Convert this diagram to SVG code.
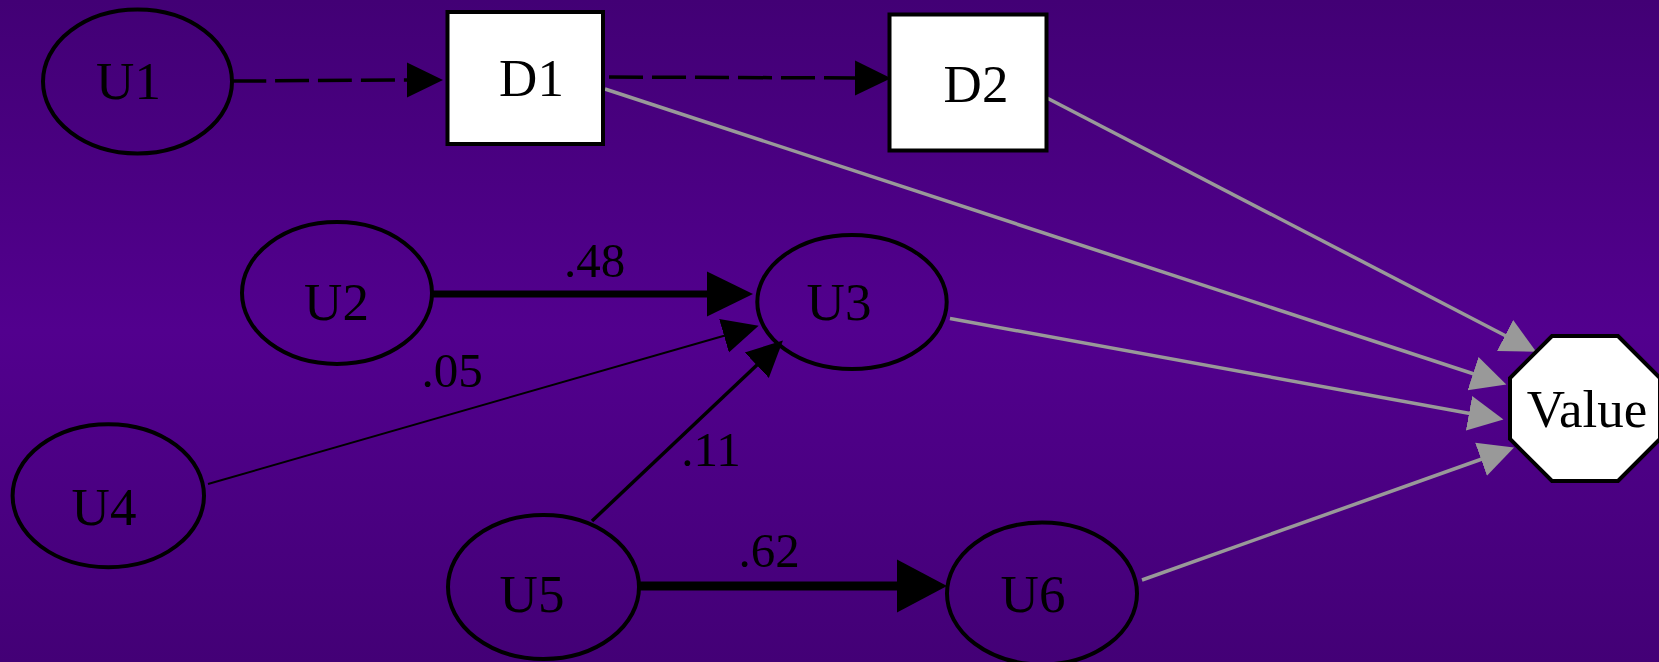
<svg xmlns="http://www.w3.org/2000/svg" width="1659" height="662" viewBox="0 0 1659 662">
<defs>
<linearGradient id="bg" x1="0" y1="0" x2="0" y2="1">
<stop offset="0" stop-color="#420075"/>
<stop offset="0.5" stop-color="#52008e"/>
<stop offset="1" stop-color="#430076"/>
</linearGradient>
<marker id="ab" markerUnits="userSpaceOnUse" markerWidth="38" markerHeight="38" viewBox="0 -19 38 38" refX="1" refY="0" orient="auto"><path d="M0,-17.5 L36,0 L0,17.5z" fill="#000"/></marker>
<marker id="ag" markerUnits="userSpaceOnUse" markerWidth="38" markerHeight="38" viewBox="0 -19 38 38" refX="1" refY="0" orient="auto"><path d="M0,-17.5 L35,0 L0,17.5z" fill="#999"/></marker>
<marker id="am" markerUnits="userSpaceOnUse" markerWidth="48" markerHeight="48" viewBox="0 -24 48 48" refX="1" refY="0" orient="auto"><path d="M0,-22.5 L46,0 L0,22.5z" fill="#000"/></marker>
<marker id="al" markerUnits="userSpaceOnUse" markerWidth="54" markerHeight="56" viewBox="0 -28 54 56" refX="1" refY="0" orient="auto"><path d="M0,-26.5 L50,0 L0,26.5z" fill="#000"/></marker>
</defs>
<style>
.u{fill:none;stroke:#000;stroke-width:4}
.d{fill:#fff;stroke:#000;stroke-width:4}
.t{font-family:"Liberation Serif","Times New Roman",serif;font-size:53px;fill:#000;text-anchor:middle}
.l{font-family:"Liberation Serif","Times New Roman",serif;font-size:49px;fill:#000;text-anchor:middle}
.e{fill:none;stroke:#000}
.g{fill:none;stroke:#999;stroke-width:3.5;marker-end:url(#ag)}
.dash{stroke-width:3.5;stroke-dasharray:34,9;marker-end:url(#ab)}
</style>
<rect x="0" y="0" width="1659" height="662" fill="url(#bg)"/>
<g id="connectors">
<path class="e dash" d="M232,81 C300,81 330,80 408,80"/>
<path class="e dash" d="M609,77 L856,78"/>
<path class="g" d="M605,89 L1474,374"/>
<path class="g" d="M1047,98 L1506,336"/>
<path class="g" d="M950,318.5 L1470,413.5"/>
<path class="g" d="M1142,580 L1482,459"/>
<path class="e" style="stroke-width:7;marker-end:url(#am)" d="M432,294 L708,294"/>
<path class="e" style="stroke-width:2;marker-end:url(#ab)" d="M208,484 L725,335.5"/>
<path class="e" style="stroke-width:3.5;marker-end:url(#ab)" d="M592,521 L757.5,364.5"/>
<path class="e" style="stroke-width:9;marker-end:url(#al)" d="M638,586 L898,586"/>
<text class="l" x="594.5" y="277">.48</text>
<text class="l" x="452" y="387">.05</text>
<text class="l" x="711" y="466">.11</text>
<text class="l" x="769" y="567">.62</text>
</g>
<g id="U1"><ellipse class="u" cx="137.5" cy="81.5" rx="94.5" ry="72"/><text class="t" x="128.5" y="99">U1</text></g>
<g id="D1"><rect class="d" x="447.5" y="12" width="155.5" height="132"/><text class="t" x="531.5" y="96">D1</text></g>
<g id="D2"><rect class="d" x="889.5" y="14.5" width="157" height="136"/><text class="t" x="976" y="101.5">D2</text></g>
<g id="U2"><ellipse class="u" cx="337" cy="293" rx="95" ry="71"/><text class="t" x="336.5" y="319.5">U2</text></g>
<g id="U3"><ellipse class="u" cx="852" cy="302" rx="94.7" ry="67"/><text class="t" x="839" y="319.5">U3</text></g>
<g id="U4"><ellipse class="u" cx="108.3" cy="495.7" rx="95.7" ry="71.5"/><text class="t" x="104" y="525">U4</text></g>
<g id="U5"><ellipse class="u" cx="543.5" cy="587" rx="95.5" ry="72"/><text class="t" x="532" y="612">U5</text></g>
<g id="U6"><ellipse class="u" cx="1042" cy="593.5" rx="95" ry="71"/><text class="t" x="1033" y="611.5">U6</text></g>
<g id="Value"><polygon class="d" points="1552,336 1618,336 1660,378 1660,439 1618,481 1552,481 1510,439 1510,378"/><text class="t" x="1587" y="427">Value</text></g>
</svg>
